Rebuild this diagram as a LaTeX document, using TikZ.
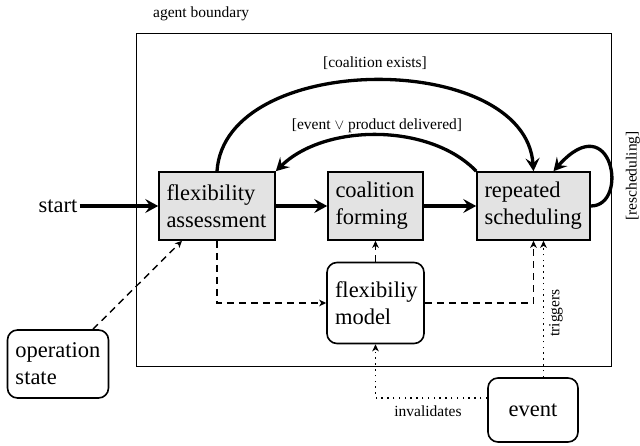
\documentclass[tikz,border=0pt]{standalone}
\usepackage{fontspec}
\setmainfont{Liberation Serif}
\usetikzlibrary{arrows.meta,calc}
\newcommand{\bigf}{\fontsize{22.5}{27}\selectfont}
\newcommand{\smallf}{\fontsize{15.5}{18}\selectfont}
\hyphenpenalty=10000
\begin{document}
\begin{tikzpicture}[x=1pt,y=-1pt,
  proc/.style={draw, line width=1.6pt, fill=black!11, align=left, font=\bigf,
    inner xsep=7.5pt, inner ysep=0pt, minimum height=68pt},
  rbox/.style={draw, line width=1.6pt, rounded corners=10pt, fill=white, align=left, font=\bigf,
    inner xsep=8pt, inner ysep=0pt},
  lbl/.style={font=\smallf, inner sep=1pt},
  flow/.style={line width=3.3pt, -{Stealth[length=13pt,width=14pt,inset=5pt]}},
  dsh/.style={line width=1.4pt, dash pattern=on 7pt off 5pt, -{Stealth[length=7pt,width=6.5pt,inset=2pt]}},
  dot/.style={line width=1.5pt, dash pattern=on 1.5pt off 4.3pt, -{Stealth[length=7pt,width=6.5pt,inset=2pt]}}
]
\useasboundingbox (0,0) rectangle (640,446);
% boundary
\node[draw, line width=0.9pt, minimum width=475pt, minimum height=333pt, inner sep=0] (bd) at (373.5,199.5) {};
\node[lbl, anchor=west] (bdl) at (152,14) {agent boundary};
% processes
\node[proc, text width=101pt] (fa) at (217,206) {flexibility\\assessment};
\node[proc, text width=80pt] (cf) at (375.5,206) {coalition\\forming};
\node[proc, text width=98pt] (rs) at (533.5,206) {repeated\\scheduling};
\node[rbox, text width=81pt, minimum height=81pt] (fm) at (375.5,303) {flexibiliy\\model};
\node[rbox, text width=85pt, minimum height=68pt] (os) at (58,364) {operation\\state};
\node[rbox, align=center, minimum width=90pt, minimum height=64pt] (ev) at (533,410) {event};
\node[font=\bigf, inner sep=2pt] (st) at (58,206) {start};
% main flow
\draw[flow] (st) -- (fa);
\draw[flow] (fa) -- (cf);
\draw[flow] (cf) -- (rs);
% arcs
\draw[flow] (fa.north) .. controls (225,50) and (525,50) .. (rs.north);
\node[lbl] (ce) at (375,63) {[coalition exists]};
\draw[flow] (rs.north west) .. controls (430,123) and (325,123) .. (fa.north east);
\node[lbl] (ep) at (377,126) {[event $\vee$ product delivered]};
\draw[flow] (rs.east) .. controls (630,206) and (612,105) .. ($(rs.north)+(20,0)$);
\node[lbl, rotate=90] (rl) at (633,176) {[rescheduling]};
% dashed
\draw[dsh] (fa.south) |- (fm.west);
\draw[dsh] (fm.north) -- (cf.south);
\draw[dsh] (fm.east) -| (rs.south);
\draw[dsh] ($(os.north)+(35,0)$) -- ($(fa.south)+(-35,0)$);
% dotted
\coordinate (trg) at ($(rs.south)+(10,0)$);
\draw[dot] (ev.north -| trg) -- (trg);
\node[lbl, rotate=90] (tl) at (556,313) {triggers};
\draw[dot] ($(ev.west)+(0,-12)$) -| (fm.south);
\node[lbl] (il) at (428,411) {invalidates};
\end{tikzpicture}
\end{document}
